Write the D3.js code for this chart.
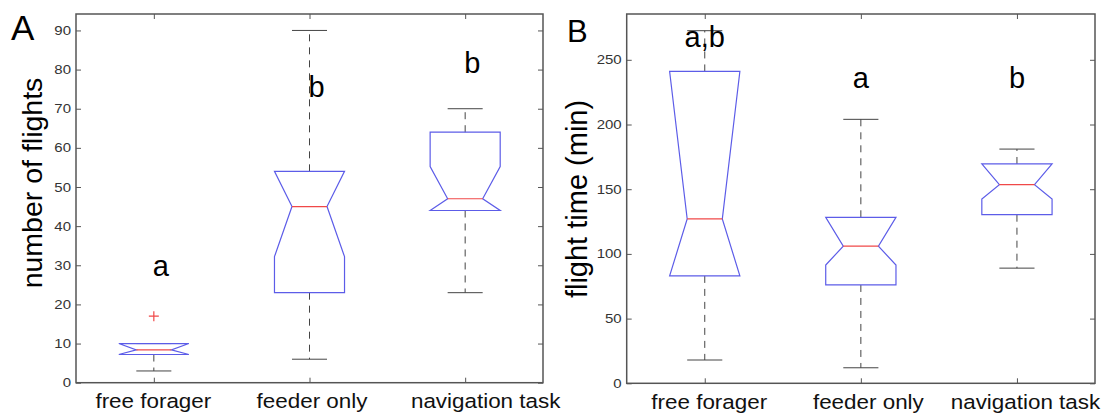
<!DOCTYPE html>
<html>
<head>
<meta charset="utf-8">
<script src="https://cdn.jsdelivr.net/npm/d3@7"></script>
<style>
  body { margin: 0; background: #fff; }
  text { font-family: "Liberation Sans", Arial, sans-serif; }
</style>
</head>
<body>
<svg id="chart" width="1107" height="417"></svg>
<script>
const groups = ['free forager', 'feeder only', 'navigation task'];

// panel A - number of flights
const flightsLowWhisker = [3, 6, 23];
const flightsQ1 = [7.2, 23, 44];
const flightsNotchLo = [7.2, 32.2, 44];
const flightsMedian = [8.4, 45, 47];
const flightsNotchHi = [10, 54, 55.2];
const flightsQ3 = [10, 54, 64];
const flightsHighWhisker = [10, 90, 70];
const flightsOutliers = [[17], [], []];
const flightsLetters = ['a', 'b', 'b'];
const flightsLetterAt = [27.2, 72.9, 79];
const flightsTicks = [0, 10, 20, 30, 40, 50, 60, 70, 80, 90];

// panel B - flight time (min)
const timeLowWhisker = [18, 12, 89];
const timeQ1 = [83, 76, 130.3];
const timeNotchLo = [83, 91.4, 142.4];
const timeMedian = [127, 106, 153.5];
const timeNotchHi = [241, 128.3, 169.5];
const timeQ3 = [241, 128.3, 169.5];
const timeHighWhisker = [272.5, 204, 181];
const timeOutliers = [[], [], []];
const timeLetters = ['a,b', 'a', 'b'];
const timeLetterAt = [260, 228, 228];
const timeTicks = [0, 50, 100, 150, 200, 250];

const svg = d3.select('#chart');
const frameCol = '#555', boxCol = '#5c5ce8', medCol = '#f04848';

function drawPanel(p) {
  let x = d3.scalePoint().domain(groups).range([p.left, p.right]).padding(0.5);
  let y = d3.scaleLinear().domain([0, p.yMax]).range([p.bottom, p.top]);
  let hw = x.step() * 0.225, nw = hw / 2;
  let rows = groups.map((name, i) => ({
    name: name, lo: p.lo[i], q1: p.q1[i], nlo: p.nlo[i], med: p.med[i],
    nhi: p.nhi[i], q3: p.q3[i], hi: p.hi[i], out: p.out[i],
    letter: p.letters[i], letterAt: p.letterAt[i], nudge: p.nudge[i]
  }));
  let g = svg.append('g');

  // axes - ticks point inwards on every side
  g.append('g').attr('transform', `translate(${p.left},0)`)
    .call(d3.axisLeft(y).tickValues(p.ticks).tickSizeInner(-5).tickSizeOuter(0).tickPadding(4))
    .call(a => a.select('.domain').remove())
    .call(a => a.selectAll('line').attr('stroke', frameCol))
    .call(a => a.selectAll('text').attr('fill', '#333').style('font-size', '12.5px')
      .attr('x', -5 / 1.2).attr('transform', 'scale(1.2,1)'));
  g.append('g').attr('transform', `translate(${p.right},0)`)
    .call(d3.axisRight(y).tickValues(p.ticks).tickSizeInner(-5).tickSizeOuter(0).tickFormat(''))
    .call(a => a.select('.domain').remove())
    .call(a => a.selectAll('line').attr('stroke', frameCol));
  g.append('g').attr('transform', `translate(0,${p.top})`)
    .call(d3.axisTop(x).tickSizeInner(-5).tickSizeOuter(0).tickFormat(''))
    .call(a => a.select('.domain').remove())
    .call(a => a.selectAll('line').attr('stroke', frameCol));
  g.append('g').attr('transform', `translate(0,${p.bottom})`)
    .call(d3.axisBottom(x).tickSizeInner(-5).tickSizeOuter(0).tickPadding(11.5))
    .call(a => a.select('.domain').remove())
    .call(a => a.selectAll('line').attr('stroke', frameCol))
    .call(a => a.selectAll('text').attr('fill', '#111').style('font-size', '19.5px')
      .attr('transform', (d, i) => `translate(${p.nudge[i]},0) scale(1.15,1)`));

  g.append('rect')
    .attr('x', p.left).attr('y', p.top)
    .attr('width', p.right - p.left).attr('height', p.bottom - p.top)
    .attr('fill', 'none').attr('stroke', frameCol).attr('stroke-width', 1.5);

  // whiskers
  g.selectAll('.wup').data(rows).join('line')
    .attr('x1', d => x(d.name)).attr('x2', d => x(d.name))
    .attr('y1', d => y(d.q3)).attr('y2', d => y(d.hi))
    .attr('stroke', '#444').attr('stroke-dasharray', '7,6');
  g.selectAll('.wdn').data(rows).join('line')
    .attr('x1', d => x(d.name)).attr('x2', d => x(d.name))
    .attr('y1', d => y(d.q1)).attr('y2', d => y(d.lo))
    .attr('stroke', '#444').attr('stroke-dasharray', '7,6');
  g.selectAll('.capup').data(rows).join('line')
    .attr('x1', d => x(d.name) - nw).attr('x2', d => x(d.name) + nw)
    .attr('y1', d => y(d.hi)).attr('y2', d => y(d.hi))
    .attr('stroke', '#444');
  g.selectAll('.capdn').data(rows).join('line')
    .attr('x1', d => x(d.name) - nw).attr('x2', d => x(d.name) + nw)
    .attr('y1', d => y(d.lo)).attr('y2', d => y(d.lo))
    .attr('stroke', '#444');

  // notched boxes
  let boxLine = d3.line();
  g.selectAll('.box').data(rows).join('path')
    .attr('d', d => {
      let c = x(d.name);
      return boxLine([
        [c - hw, y(d.q1)], [c - hw, y(d.nlo)], [c - nw, y(d.med)], [c - hw, y(d.nhi)],
        [c - hw, y(d.q3)], [c + hw, y(d.q3)], [c + hw, y(d.nhi)], [c + nw, y(d.med)],
        [c + hw, y(d.nlo)], [c + hw, y(d.q1)]
      ]) + 'Z';
    })
    .attr('fill', 'none').attr('stroke', boxCol).attr('stroke-width', 1.2);
  g.selectAll('.med').data(rows).join('line')
    .attr('x1', d => x(d.name) - nw).attr('x2', d => x(d.name) + nw)
    .attr('y1', d => y(d.med)).attr('y2', d => y(d.med))
    .attr('stroke', medCol).attr('stroke-width', 1.2);

  // outliers
  let outs = rows.flatMap(d => d.out.map(v => ({ name: d.name, v: v })));
  g.selectAll('.out').data(outs).join('path')
    .attr('d', d => `M${x(d.name) - 5},${y(d.v)}h10M${x(d.name)},${y(d.v) - 5}v10`)
    .attr('stroke', medCol).attr('stroke-width', 1.2);

  // significance letters
  g.selectAll('.sig').data(rows).join('text')
    .attr('x', d => x(d.name) + p.letterDx)
    .attr('y', d => y(d.letterAt))
    .attr('text-anchor', p.letterAnchor)
    .style('font-size', '29px').attr('fill', '#000')
    .text(d => d.letter);

  g.append('text')
    .attr('transform', `translate(${p.yLabelX},${p.yLabelY}) rotate(-90)`)
    .attr('text-anchor', 'middle').style('font-size', p.yLabelSize + 'px')
    .text(p.yLabel);
  g.append('text')
    .attr('x', p.tagX).attr('y', p.tagY)
    .style('font-size', p.tagSize + 'px')
    .text(p.tag);
}

drawPanel({
  left: 76, right: 543, top: 14, bottom: 382.7, yMax: 94.2, ticks: flightsTicks,
  lo: flightsLowWhisker, q1: flightsQ1, nlo: flightsNotchLo, med: flightsMedian,
  nhi: flightsNotchHi, q3: flightsQ3, hi: flightsHighWhisker, out: flightsOutliers,
  letters: flightsLetters, letterAt: flightsLetterAt, letterAnchor: 'start', letterDx: -1,
  nudge: [-1, 2, 20],
  yLabel: 'number of flights', yLabelX: 42, yLabelY: 183, yLabelSize: 28.5,
  tag: 'A', tagX: 11, tagY: 40, tagSize: 35
});

drawPanel({
  left: 626.7, right: 1095, top: 14, bottom: 383.3, yMax: 285.4, ticks: timeTicks,
  lo: timeLowWhisker, q1: timeQ1, nlo: timeNotchLo, med: timeMedian,
  nhi: timeNotchHi, q3: timeQ3, hi: timeHighWhisker, out: timeOutliers,
  letters: timeLetters, letterAt: timeLetterAt, letterAnchor: 'middle', letterDx: 0,
  nudge: [4, 7, 8],
  yLabel: 'flight time (min)', yLabelX: 587, yLabelY: 199, yLabelSize: 29,
  tag: 'B', tagX: 567, tagY: 42, tagSize: 31
});
</script>
</body>
</html>
